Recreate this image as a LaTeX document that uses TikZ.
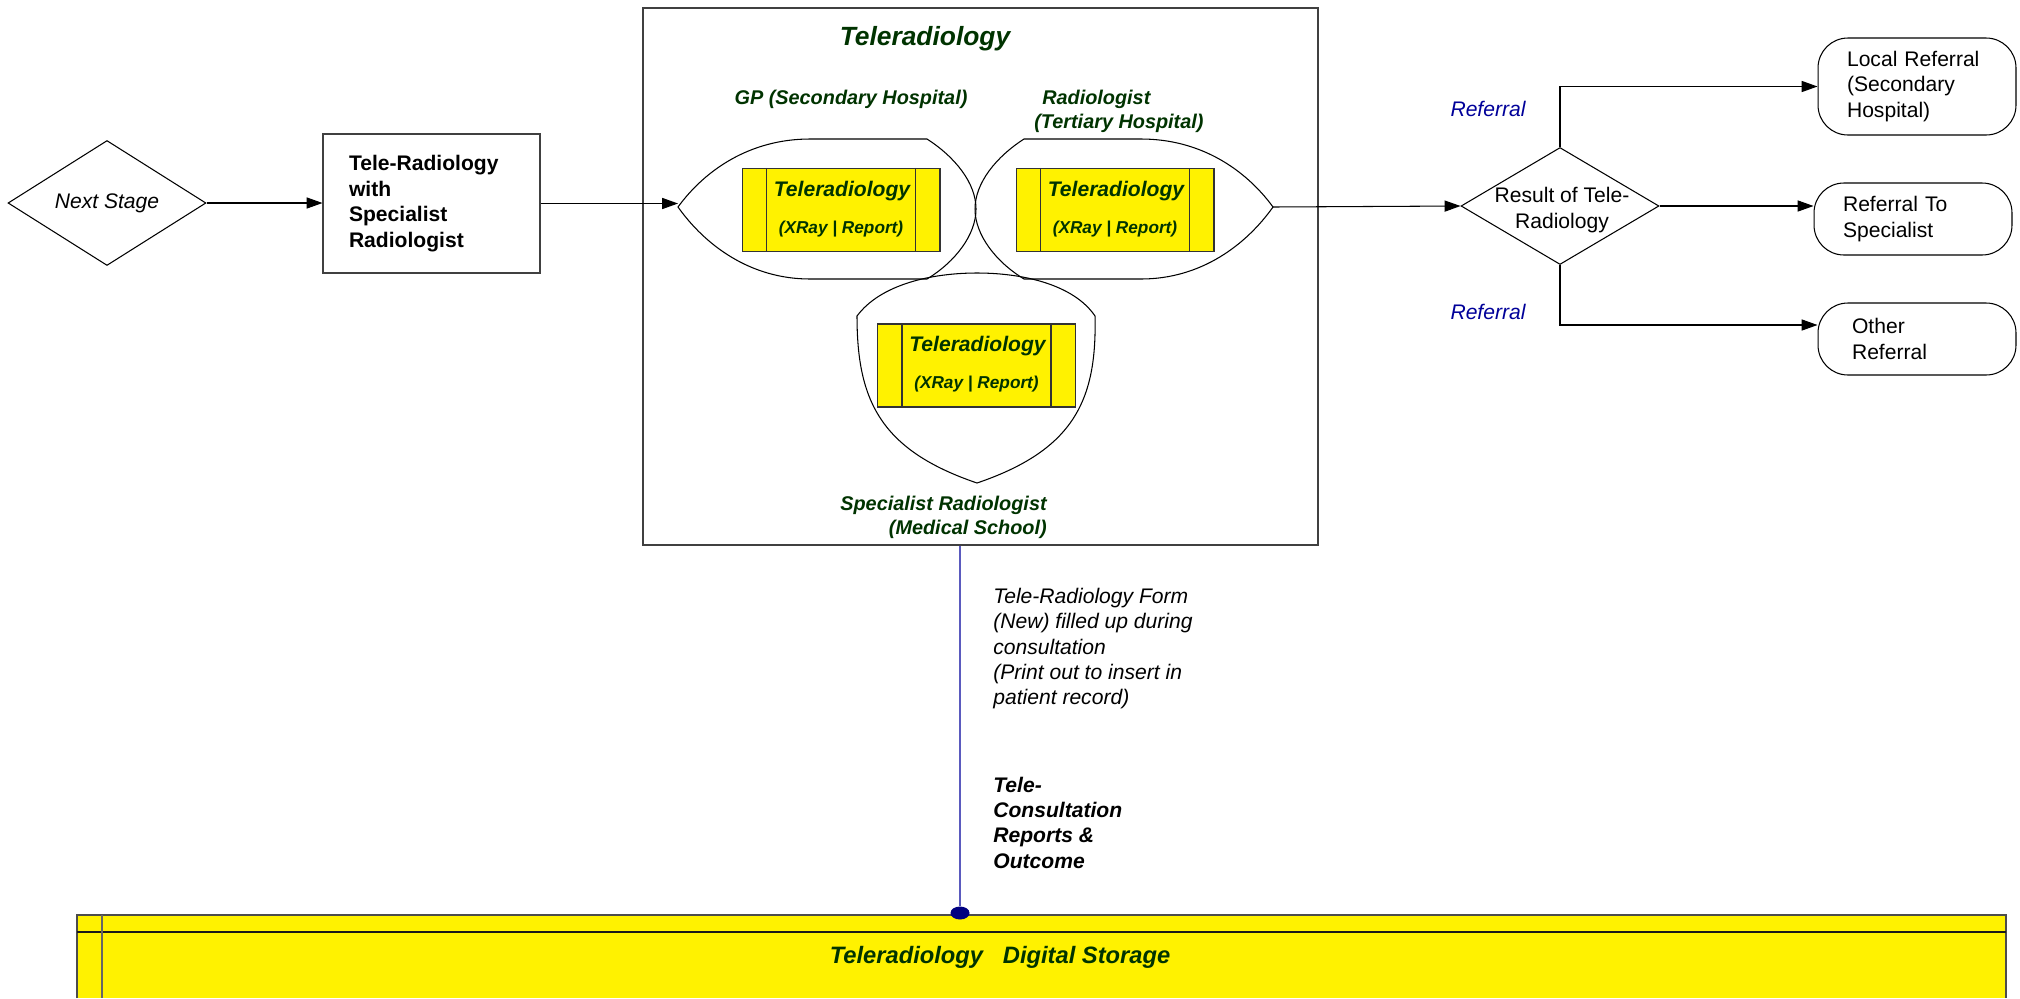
\documentclass[tikz,border=0pt]{standalone}
\usepackage{fontspec}
\setmainfont{Liberation Sans}
\usetikzlibrary{calc,positioning,shapes.geometric,arrows.meta}
\definecolor{teletext}{RGB}{0,51,0}
\definecolor{referblue}{RGB}{0,0,153}
\definecolor{storeblue}{RGB}{0,0,128}
\definecolor{linkblue}{RGB}{90,90,190}
\def\radbox(#1)(#2){%
	\node[radbox] (#1) at (#2) {};
	\draw[radline] ($(#1.north west)+(25,0)$) -- ($(#1.south west)+(25,0)$);
	\draw[radline] ($(#1.north east)+(-25,0)$) -- ($(#1.south east)+(-25,0)$);
	\node[radtitle] (#1title) at ($(#1.center)+(1,-19)$) {Teleradiology};
	\node[radsub] (#1sub) at ($(#1.center)+(0,19)$) {(XRay | Report)};
}

\begin{document}
\begin{tikzpicture}[x=0.02cm,y=-0.02cm,
	every node/.style={inner sep=0pt},
	flow/.style={line width=0.6pt,-{Triangle[length=9pt,width=6.3pt]}},
	lens/.style={line width=0.6pt},
	radbox/.style={draw=black!80,fill=yellow,line width=0.6pt,minimum width=3.96cm,minimum height=1.66cm},
	radline/.style={line width=0.6pt,color=black!80},
	radtitle/.style={font=\fontsize{12}{14}\selectfont\bfseries\itshape,text=teletext},
	radsub/.style={font=\fontsize{9.8}{12}\selectfont\bfseries\itshape,text=teletext},
	teletitle/.style={font=\fontsize{15}{18}\selectfont\bfseries\itshape,text=teletext},
	greenlabel/.style={font=\fontsize{11.3}{13.6}\selectfont\bfseries\itshape,text=teletext},
	plain/.style={font=\fontsize{12}{14.5}\selectfont},
	notetext/.style={font=\fontsize{12}{14.4}\selectfont\itshape},
	referlabel/.style={font=\fontsize{12}{14.5}\selectfont\itshape,text=referblue},
	terminal/.style={draw,line width=0.6pt,rounded corners=17pt,minimum width=3.96cm,text width=2.8cm,inner xsep=0.58cm,align=left,font=\fontsize{12}{14.5}\selectfont},
	decision/.style={draw,diamond,line width=0.6pt,minimum width=3.96cm,inner sep=0pt}]
			%%%%% START %%%%%
			\useasboundingbox (0,0) rectangle (2020,998);
			
			% left side
			\node[decision,aspect=1.6,minimum height=2.5cm,font=\fontsize{12}{14.5}\selectfont\itshape] (nextstage) at (107,203) {Next Stage};
			\node[draw=black!75,line width=0.6pt,minimum width=4.34cm,minimum height=2.78cm,text width=3.3cm,inner xsep=0.52cm,align=left,font=\fontsize{12}{14.5}\selectfont\bfseries] (teleradbox) at (431.5,203.5) {Tele-Radiology\\with\\Specialist\\Radiologist};
			
			% teleradiology frame
			\node[draw=black!75,line width=0.7pt,minimum width=13.5cm,minimum height=10.74cm] (telebox) at (980.5,276.5) {};
			\node[teletitle] (title) at (925,39) {Teleradiology};
			\node[greenlabel] (gplabel) at (851,99) {GP (Secondary Hospital)};
			\node[greenlabel,anchor=west,align=left] (radlabel) at (1034,111) {\hspace*{4.5pt}Radiologist\\(Tertiary Hospital)};
			\node[greenlabel,anchor=east,align=right] (speclabel) at (1047,517) {Specialist Radiologist\\(Medical School)};
			
			\draw[lens] (678,207) .. controls (705,170) and (750,139) .. (810,139) -- (927,139) .. controls (955,157) and (976,183) .. (976,209) .. controls (976,235) and (955,262) .. (927,279) -- (810,279) .. controls (750,279) and (705,245) .. (678,207) -- cycle;
			\draw[lens] (1273,207) .. controls (1246,170) and (1201,139) .. (1141,139) -- (1024,139) .. controls (996,157) and (975,183) .. (975,209) .. controls (975,235) and (996,262) .. (1024,279) -- (1141,279) .. controls (1201,279) and (1246,245) .. (1273,207) -- cycle;
			\draw[lens] (857,316) .. controls (880,285) and (930,273) .. (977,273) .. controls (1024,273) and (1074,285) .. (1095,316) .. controls (1097,400) and (1074,450) .. (977,483) .. controls (880,450) and (857,400) .. (857,316) -- cycle;
			\coordinate (gptip) at (678,207);
			\coordinate (radtip) at (1273,207);
			
			\radbox(gpbox)(841,210)
			\radbox(radbox)(1115,210)
			\radbox(specbox)(976.5,365.5)
			
			% right side
			\node[decision,minimum height=2.34cm] (result) at (1560,206) {};
			\node[plain,align=center] (resulttext) at (1562,210) {Result of Tele-\\Radiology};
			\node[terminal,minimum height=1.94cm] (localref) at (1917,86.5) {Local Referral\\(Secondary\\Hospital)};
			\node[terminal,minimum height=1.44cm] (specref) at (1913,219) {Referral To\\Specialist};
			\node[terminal,minimum height=1.44cm,text width=2.6cm,inner xsep=0.68cm] (otherref) at (1917,339) {Other\\Referral};
			\node[referlabel] (referup) at (1488,109) {Referral};
			\node[referlabel] (referdown) at (1488,312) {Referral};
			
			\draw[flow] (nextstage.east) -- (nextstage.east -| teleradbox.west);
			\draw[flow] (teleradbox.east) -- (teleradbox.east -| gptip);
			\draw[flow] (radtip) -- (result.west);
			\draw[flow] (result.north) |- (localref.west);
			\draw[flow] (result.east) -- (result.east -| specref.west);
			\draw[flow] (result.south) |- ($(otherref.west)+(0,-14)$);
			
			% storage
			\fill[yellow] (77,915) rectangle (2006,998);
			\draw[line width=0.8pt,color=black!70] (77,998) -- (77,915) -- (2006,915) -- (2006,998);
			\draw[line width=0.8pt,color=black!90] (77,932) -- (2006,932);
			\draw[line width=0.6pt,color=black!60] (102,915) -- (102,998);
			\node[font=\fontsize{13.5}{16}\selectfont\bfseries\itshape,text=teletext] (storetext) at (1000,957) {Teleradiology\ \ \ Digital Storage};
			
			\node[fill=storeblue,ellipse,minimum width=0.38cm,minimum height=0.26cm] (storedot) at (960,913) {};
			\draw[line width=0.6pt,color=linkblue] (telebox.south -| storedot) -- (storedot);
			
			\node[notetext,anchor=north west,align=left] (formnote) at (993,588) {Tele-Radiology Form\\(New) filled up during\\consultation\\(Print out to insert in\\patient record)};
			\node[notetext,font=\fontsize{12}{14.3}\selectfont\bfseries\itshape,anchor=north west,align=left] (reportnote) at (993,777) {Tele-\\Consultation\\Reports \&\\Outcome};
			
			%%%%% END %%%%%
\end{tikzpicture}
\end{document}
